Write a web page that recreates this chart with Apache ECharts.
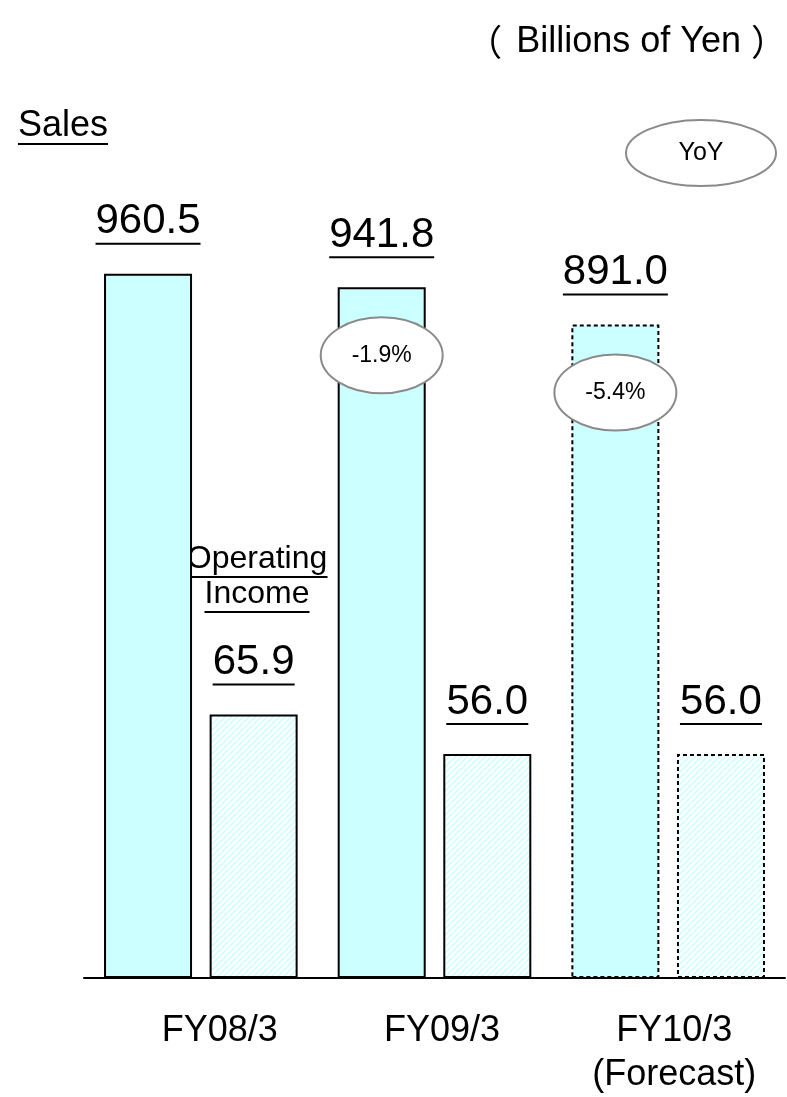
<!DOCTYPE html>
<html>
<head>
<meta charset="utf-8">
<script src="https://cdn.jsdelivr.net/npm/echarts@6/dist/echarts.min.js"></script>
<style>
  html, body { margin: 0; padding: 0; background: #fff; }
  #chart { width: 787px; height: 1097px; }
</style>
</head>
<body>
<div id="chart"></div>
<script>
// Fiscal years, sales and operating income (billions of yen)
const categories = ['FY08/3', 'FY09/3', 'FY10/3\n(Forecast)'];
const sales = [960.5, 941.8, 891.0];
const operatingIncome = [65.9, 56.0, 56.0];
const salesYoY = [null, '-1.9%', '-5.4%'];
const isForecast = [false, false, true];

const FONT = '"Liberation Sans", Arial, Helvetica, sans-serif';
const CJK = '"Noto Sans CJK JP", "Noto Sans CJK SC", sans-serif';
const BAR_W = 88;

function textWidth(str, size) {
  const ctx = document.createElement('canvas').getContext('2d');
  ctx.font = size + 'px ' + FONT;
  return Math.round(ctx.measureText(str).width);
}

// pale diagonal hatching for the operating income bars
function hatchPattern() {
  const n = 6;
  const c = document.createElement('canvas');
  c.width = n; c.height = n;
  const g = c.getContext('2d');
  g.fillStyle = '#ffffff';
  g.fillRect(0, 0, n, n);
  g.strokeStyle = '#c8ffff';
  g.lineWidth = 1.4;
  g.beginPath();
  g.moveTo(-1, n + 1); g.lineTo(n + 1, -1);
  g.moveTo(-1, 1); g.lineTo(1, -1);
  g.moveTo(n - 1, n + 1); g.lineTo(n + 1, n - 1);
  g.stroke();
  return c;
}

// value label with an underline drawn as a rich-text bar
function valueLabel(v) {
  const s = v.toFixed(1);
  return {
    show: true,
    position: 'top',
    distance: 29,
    formatter: '{v|' + s + '}\n{u|}',
    rich: {
      v: { fontSize: 42, fontFamily: FONT, color: '#000', lineHeight: 42 },
      u: { width: textWidth(s, 42), height: 2, lineHeight: 2, backgroundColor: '#000' }
    }
  };
}

function barItem(v, i, fill) {
  return {
    value: v,
    itemStyle: {
      color: fill,
      borderColor: '#000',
      borderWidth: 2,
      borderType: isForecast[i] ? [4, 3] : 'solid'
    },
    label: valueLabel(v)
  };
}

const labelPad = [38, 15, 12];

const chart = echarts.init(document.getElementById('chart'), null, { renderer: 'canvas' });

const option = {
  animation: false,
  backgroundColor: '#fff',
  grid: { left: 84, right: 2, top: 98, bottom: 119, containLabel: false, outerBoundsMode: 'none' },
  xAxis: {
    type: 'category',
    data: categories.map((c, i) => ({ value: c, textStyle: { padding: [0, 0, 0, labelPad[i]] } })),
    axisTick: { show: false },
    axisLine: { lineStyle: { color: '#000', width: 2 } },
    axisLabel: {
      color: '#000',
      fontFamily: FONT,
      fontSize: 36,
      lineHeight: 44,
      margin: 31,
      interval: 0
    }
  },
  yAxis: [
    { type: 'value', min: 0, max: 1200, show: false },
    { type: 'value', min: 0, max: 220, show: false }
  ],
  series: [
    {
      name: 'Sales',
      type: 'bar',
      yAxisIndex: 0,
      barWidth: BAR_W,
      barGap: '20%',
      data: sales.map((v, i) => barItem(v, i, '#ccffff'))
    },
    {
      name: 'Operating Income',
      type: 'bar',
      yAxisIndex: 1,
      barWidth: BAR_W,
      barGap: '20%',
      data: operatingIncome.map((v, i) => barItem(v, i, { image: hatchPattern(), repeat: 'repeat' }))
    }
  ]
};

chart.setOption(option);

function underlined(lines, size, lh) {
  let text = '';
  const rich = { t: { fontSize: size, fontFamily: FONT, fill: '#000', color: '#000', lineHeight: lh } };
  lines.forEach((ln, k) => {
    rich['u' + k] = { width: textWidth(ln, size), height: 2, lineHeight: 2, backgroundColor: '#000' };
    text += (k ? '\n' : '') + '{t|' + ln + '}\n{u' + k + '|}';
  });
  return { text, rich };
}

const ellipseStyle = { fill: '#fff', stroke: '#8a8a8a', lineWidth: 2 };
const graphics = [
  {
    type: 'text', x: 787, y: 42,
    style: {
      text: '{pl|（}{t|Billions of Yen}{pr|）}',
      align: 'right', verticalAlign: 'middle',
      rich: {
        pl: { fontSize: 36, fontFamily: CJK, fill: '#000', padding: [0, 14, 0, 0] },
        pr: { fontSize: 36, fontFamily: CJK, fill: '#000', padding: [0, 0, 0, 10] },
        t: { fontSize: 36, fontFamily: FONT, fill: '#000' }
      }
    }
  },
  Object.assign({ type: 'text', x: 18, y: 109 }, {
    style: Object.assign(underlined(['Sales'], 36, 34), { align: 'left', verticalAlign: 'top' })
  }),
  Object.assign({ type: 'text', x: 257, y: 543 }, {
    style: Object.assign(underlined(['Operating', 'Income'], 32, 33), { align: 'center', verticalAlign: 'top' })
  }),
  { type: 'ellipse', shape: { cx: 701, cy: 153, rx: 75, ry: 33 }, style: ellipseStyle },
  {
    type: 'text', x: 701, y: 153,
    style: { text: 'YoY', font: '25px ' + FONT, fill: '#000', align: 'center', verticalAlign: 'middle' }
  }
];

// year-on-year badges placed on the sales bars
const salesData = chart.getModel().getSeriesByIndex(0).getData();
salesYoY.forEach((t, i) => {
  if (!t) return;
  const l = salesData.getItemLayout(i);
  const cx = l.x + l.width / 2;
  const top = Math.min(l.y, l.y + l.height);
  const cy = top + 68;
  graphics.push({ type: 'ellipse', shape: { cx, cy, rx: 61, ry: 38 }, style: ellipseStyle, z: 10 });
  graphics.push({
    type: 'text', x: cx, y: cy, z: 11,
    style: { text: t, font: '23px ' + FONT, fill: '#000', align: 'center', verticalAlign: 'middle' }
  });
});

chart.setOption({ graphic: graphics });
</script>
</body>
</html>
